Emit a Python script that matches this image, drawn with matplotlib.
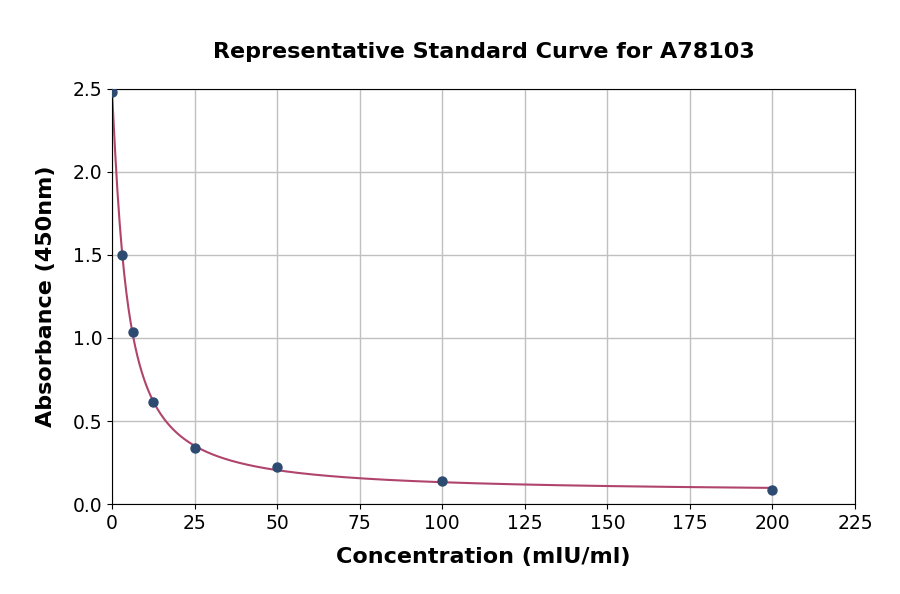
import numpy as np
import matplotlib
matplotlib.use("agg")
import matplotlib.pyplot as plt

conc = [0, 3.125, 6.25, 12.5, 25, 50, 100, 200]
absorb = [2.48, 1.50, 1.035, 0.614, 0.337, 0.223, 0.139, 0.084]

x_ticks = [0, 25, 50, 75, 100, 125, 150, 175, 200, 225]
y_ticks = [0.0, 0.5, 1.0, 1.5, 2.0, 2.5]


def four_pl(x, p):
    a, b, c, d = p
    return d + (a - d) / (1 + (np.abs(x) / c) ** b)


def fit_4pl(x, y, p0, n_iter=300):
    # small Levenberg-Marquardt, good enough for a standard curve
    p = np.array(p0, dtype=float)
    lam = 1e-2
    for _ in range(n_iter):
        r = y - four_pl(x, p)
        J = np.zeros((len(x), len(p)))
        for i in range(len(p)):
            dp = np.zeros_like(p)
            dp[i] = 1e-6 * max(abs(p[i]), 1e-3)
            J[:, i] = (four_pl(x, p + dp) - four_pl(x, p)) / dp[i]
        A = J.T @ J
        g = J.T @ r
        step = np.linalg.solve(A + lam * np.diag(np.diag(A)), g)
        p_new = p + step
        if p_new[2] > 0 and np.sum((y - four_pl(x, p_new)) ** 2) < np.sum(r ** 2):
            p = p_new
            lam *= 0.3
        else:
            lam *= 5
    return p


x = np.array(conc)
y = np.array(absorb)
params = fit_4pl(x, y, [2.5, 1.0, 5.0, 0.05])
xs = np.linspace(0, 200, 600)

fig = plt.figure(figsize=(9, 5.94), dpi=100)
ax = fig.add_axes([0.1244, 0.1515, 0.8256, 0.6987])
ax.plot(xs, four_pl(xs, params), color="#b0446c", lw=1.5, zorder=2)
ax.scatter(conc, absorb, color="#2d4a70", s=42, zorder=3)

ax.set_xlim(0, 225)
ax.set_ylim(0, 2.5)
ax.set_xticks(x_ticks)
ax.set_yticks(y_ticks)
ax.grid(True, color="#c0c0c0", lw=1)
ax.set_axisbelow(True)
ax.tick_params(labelsize=13.5)
ax.set_title("Representative Standard Curve for A78103", fontsize=16, fontweight="bold", pad=22)
ax.set_xlabel("Concentration (mIU/ml)", fontsize=16, fontweight="bold", labelpad=10)
ax.set_ylabel("Absorbance (450nm)", fontsize=16, fontweight="bold", labelpad=12)

fig.savefig("out.png", dpi=100)
